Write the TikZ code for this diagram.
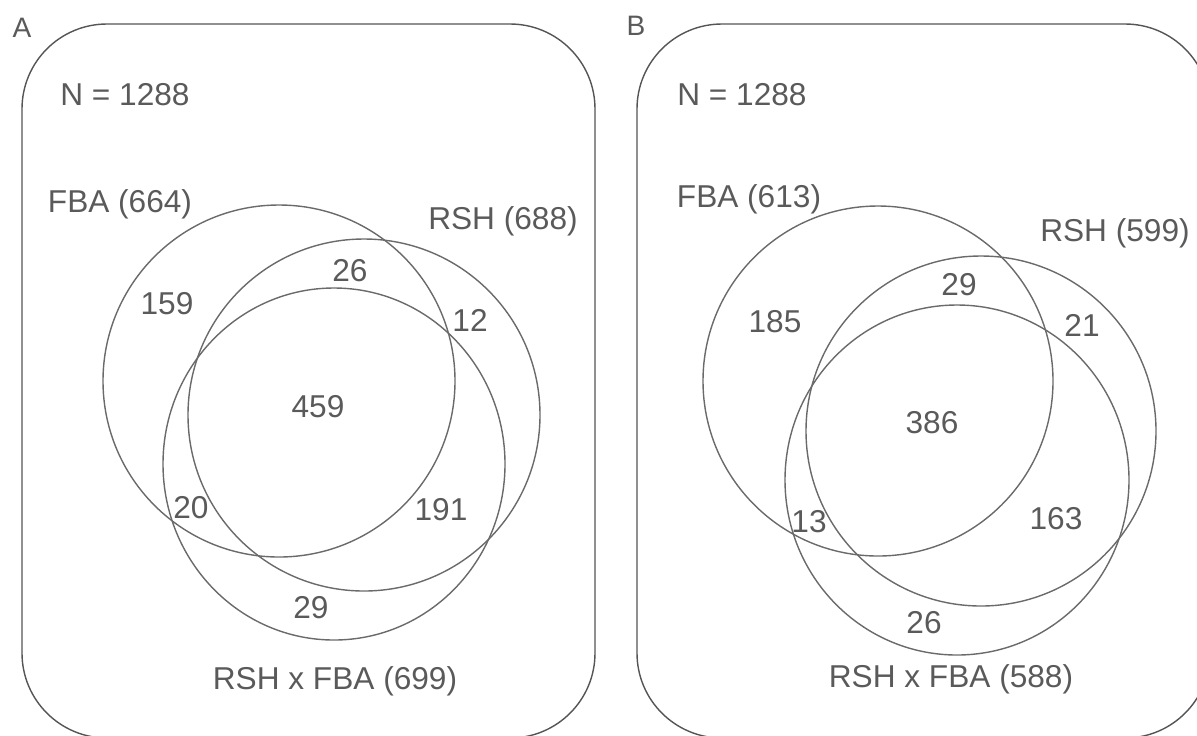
\documentclass[tikz,border=0pt]{standalone}
\usepackage{fontspec}
\setmainfont{Liberation Sans}
\definecolor{vennline}{HTML}{6A6A6A}
\definecolor{venntext}{HTML}{5A5A5A}
\definecolor{framecol}{HTML}{555555}

\begin{document}
\begin{tikzpicture}[x=0.02cm, y=-0.02cm,
    frame/.style={draw=framecol, line width=0.8pt, rounded corners=1.7cm},
    set/.style={draw=vennline, line width=0.8pt},
    lab/.style={text=venntext, inner sep=0pt, font=\fontsize{18}{20}\selectfont},
    panel/.style={text=venntext, inner sep=0pt, font=\fontsize{16}{18}\selectfont}]
    \useasboundingbox (0,0) rectangle (1197,735);
    \clip (0,0) rectangle (1197,735);

    % panel A
    \node[panel] (labA) at (22,28) {A};
    \draw[frame] (22,24) rectangle (595,738);
    \node[lab] (nA) at (125,95) {N = 1288};
    \coordinate (fbaA) at (279,381);
    \coordinate (rshA) at (364,415);
    \coordinate (crossA) at (334,464);
    \draw[set] (fbaA) circle[radius=176];
    \draw[set] (rshA) circle[radius=176];
    \draw[set] (crossA) ellipse[x radius=171, y radius=176];
    \node[lab] (fbanameA) at (120,204) {FBA (664)};
    \node[lab] (rshnameA) at (503,221) {RSH (688)};
    \node[lab] (crossnameA) at (335,681) {RSH x FBA (699)};
    \node[lab] (a159) at (167,304) {159};
    \node[lab] (a26) at (350,271) {26};
    \node[lab] (a12) at (470,320) {12};
    \node[lab] (a459) at (318,407) {459};
    \node[lab] (a20) at (191,508) {20};
    \node[lab] (a191) at (441,510) {191};
    \node[lab] (a29) at (311,608) {29};

    % panel B
    \node[panel] (labB) at (636,26) {B};
    \draw[frame] (637,24) rectangle (1210,738);
    \node[lab] (nB) at (742,95) {N = 1288};
    \coordinate (fbaB) at (878,381);
    \coordinate (rshB) at (981,431);
    \coordinate (crossB) at (957,480);
    \draw[set] (fbaB) circle[radius=175];
    \draw[set] (rshB) circle[radius=175];
    \draw[set] (crossB) ellipse[x radius=172, y radius=175];
    \node[lab] (fbanameB) at (749,199) {FBA (613)};
    \node[lab] (rshnameB) at (1115,233) {RSH (599)};
    \node[lab] (crossnameB) at (951,679) {RSH x FBA (588)};
    \node[lab] (b185) at (775,322) {185};
    \node[lab] (b29) at (959,285) {29};
    \node[lab] (b21) at (1082,325) {21};
    \node[lab] (b386) at (932,423) {386};
    \node[lab] (b13) at (809,522) {13};
    \node[lab] (b163) at (1056,519) {163};
    \node[lab] (b26) at (924,623) {26};
\end{tikzpicture}
\end{document}
